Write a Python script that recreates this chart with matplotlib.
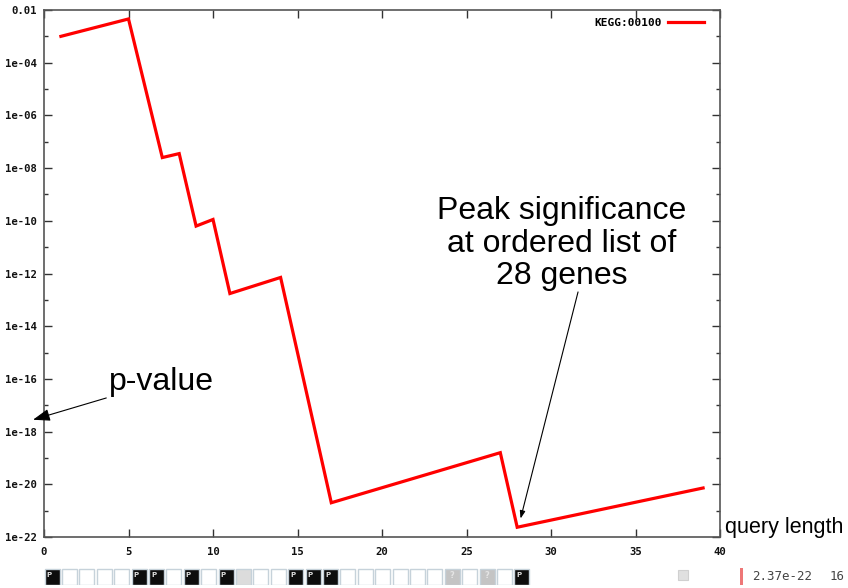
import numpy as np
import matplotlib.pyplot as plt
from matplotlib.patches import Rectangle
from matplotlib.ticker import FixedLocator, FixedFormatter

# query length vs p-value
query_len = [1, 5, 7, 8, 9, 10, 11, 14, 17, 27, 28, 39]
log_p = [-3.0, -2.34, -7.6, -7.45, -10.2, -9.95, -12.76, -12.15, -20.7, -18.8, -21.63, -20.14]
pvals = [10.0 ** v for v in log_p]

# gene strip under the plot: 'P' = black box, 'L' = light grey, '?' = grey, '' = empty
gene_status = ['P', '', '', '', '', 'P', 'P', '', 'P', '', 'P', 'L', '', '',
               'P', 'P', 'P', '', '', '', '', '', '', '?', '', '?', '', 'P']

y_major = [1e-22, 1e-20, 1e-18, 1e-16, 1e-14, 1e-12, 1e-10, 1e-8, 1e-6, 1e-4, 1e-2]
y_labels = ['1e-22', '1e-20', '1e-18', '1e-16', '1e-14', '1e-12', '1e-10',
            '1e-08', '1e-06', '1e-04', '0.01']
y_minor = [1e-21, 1e-19, 1e-17, 1e-15, 1e-13, 1e-11, 1e-9, 1e-7, 1e-5, 1e-3]
x_major = [0, 5, 10, 15, 20, 25, 30, 35, 40]

W, H = 848, 588
fig = plt.figure(figsize=(W / 100, H / 100), dpi=100)

# main axes, placed in pixels
left, right, top, bottom = 44, 720, 10, 537
ax = fig.add_axes([left / W, 1 - bottom / H, (right - left) / W, (bottom - top) / H])

tick_font = dict(family='DejaVu Sans Mono', weight='bold', size=7.7)

ax.plot(query_len, pvals, color='#ff0000', lw=2.3, solid_joinstyle='miter',
        label='KEGG:00100')
ax.set_yscale('log')
ax.set_xlim(0, 40)
ax.set_ylim(1e-22, 1e-2)

ax.yaxis.set_major_locator(FixedLocator(y_major))
ax.yaxis.set_major_formatter(FixedFormatter(y_labels))
ax.yaxis.set_minor_locator(FixedLocator(y_minor))
ax.yaxis.set_minor_formatter(FixedFormatter([''] * len(y_minor)))
ax.set_xticks(x_major)
ax.set_xticklabels([str(v) for v in x_major])

for s in ax.spines.values():
    s.set_color('#555555')
    s.set_linewidth(1.2)
ax.tick_params(which='both', direction='in', top=True, right=True, color='#333333', width=1)
ax.tick_params(which='major', length=6)
ax.tick_params(which='minor', length=3)
ax.tick_params(axis='y', pad=5)
ax.tick_params(axis='x', pad=7)
for lab in ax.get_xticklabels() + ax.get_yticklabels():
    lab.set_fontfamily(tick_font['family'])
    lab.set_fontweight(tick_font['weight'])
    lab.set_fontsize(tick_font['size'])
    lab.set_color('#111111')

leg = ax.legend(loc='upper right', bbox_to_anchor=(1 - 4 / 676, 1 + 4 / 527),
                frameon=False, handlelength=3.2, handletextpad=0.6,
                borderaxespad=0.9, borderpad=0.2, markerfirst=False,
                prop=dict(family='DejaVu Sans Mono', weight='bold', size=8))

# annotations
ann_font = dict(family='Liberation Sans', size=23)
head = '-|>,head_length=0.45,head_width=0.16'
ax.annotate('p-value', xy=(-0.65, 10 ** -17.55), xytext=(3.85, 10 ** -16.1),
            ha='left', va='center', annotation_clip=False, **ann_font,
            arrowprops=dict(arrowstyle=head, color='black', lw=0.8,
                            shrinkA=0, shrinkB=0))
ax.text(30.65, 10 ** -9.05, 'Peak significance\nat ordered list of\n28 genes',
        ha='center', va='top', multialignment='center', linespacing=1.12,
        **ann_font)
ax.annotate('', xy=(28.2, 10 ** -21.3), xytext=(31.6, 10 ** -12.7),
            annotation_clip=False,
            arrowprops=dict(arrowstyle=head, color='black', lw=0.8,
                            shrinkA=0, shrinkB=0))
fig.text(725 / W, 1 - 528 / H, 'query length', ha='left', va='center',
         family='Liberation Sans', size=15.5)

# gene strip
pitch = 17.4
sx = fig.add_axes([44 / W, 1 - 585 / H, len(gene_status) * pitch / W, 17 / H])
sx.set_xlim(0, len(gene_status))
sx.set_ylim(0, 1)
sx.axis('off')
for i, st in enumerate(gene_status):
    if st == 'P':
        fc = '#0d0d0d'
    elif st == 'L':
        fc = '#dcdcdc'
    elif st == '?':
        fc = '#c4c4c4'
    else:
        fc = 'white'
    sx.add_patch(Rectangle((i + 0.04, 0.02), 0.86, 0.94, facecolor=fc,
                           edgecolor='#c6d2da', lw=1.0))
    if st == 'P':
        sx.text(i + 0.3, 0.6, 'P', color='#dddddd', ha='center', va='center',
                family='DejaVu Sans', weight='bold', size=5)
    elif st == '?':
        sx.text(i + 0.45, 0.55, '?', color='#e4e4e4', ha='center', va='center',
                family='DejaVu Sans', weight='bold', size=6)

# small icon, score and count at bottom right
fig.patches.append(Rectangle((678 / W, 1 - 580 / H), 10 / W, 10 / H, facecolor='#e0e0e0',
                             edgecolor='#d0d0d0', lw=0.8, transform=fig.transFigure))
fig.patches.append(Rectangle((740 / W, 1 - 585 / H), 2.5 / W, 17 / H, facecolor='#ee7777',
                             edgecolor='none', transform=fig.transFigure))
fig.text(752 / W, 1 - 577 / H, '2.37e-22', ha='left', va='center',
         family='DejaVu Sans Mono', size=9, color='#444444')
fig.text(830 / W, 1 - 577 / H, '16', ha='left', va='center',
         family='DejaVu Sans Mono', size=9, color='#444444')

fig.savefig('out.png', dpi=100)
